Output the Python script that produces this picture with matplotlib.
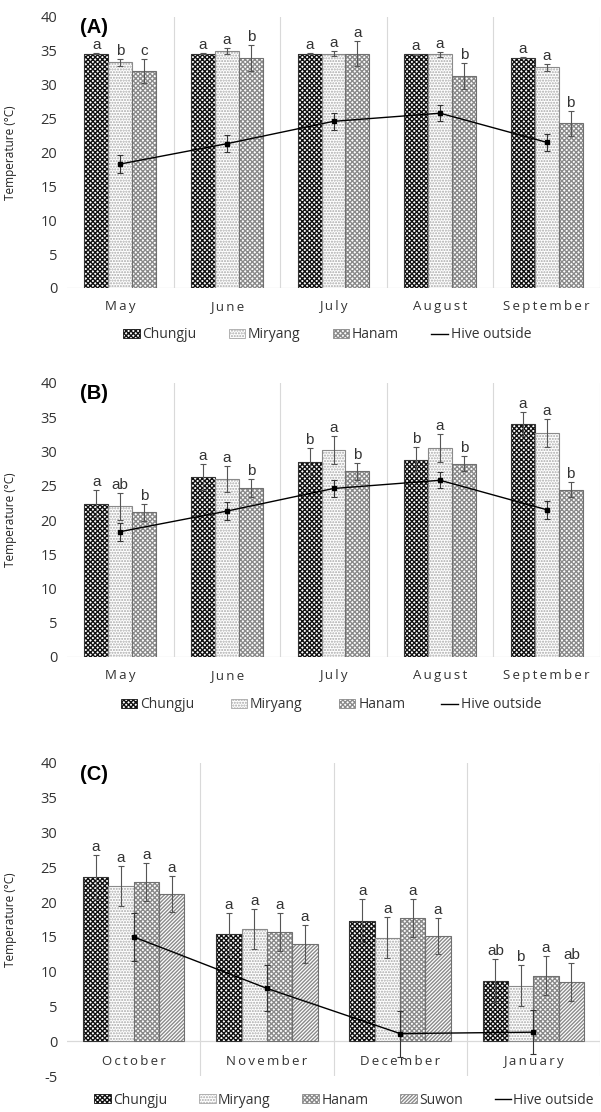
import matplotlib
matplotlib.use("Agg")
import matplotlib.pyplot as plt
from matplotlib.patches import Patch
from matplotlib.lines import Line2D
import numpy as np

# ---------------- data ----------------
months_summer = ["May", "June", "July", "August", "September"]
months_winter = ["October", "November", "December", "January"]

# (A) summer, upper hive temperature
a_chungju = [34.6, 34.6, 34.6, 34.5, 34.0]
a_chungju_err = [0.1, 0.1, 0.1, 0.1, 0.1]
a_miryang = [33.3, 35.0, 34.6, 34.5, 32.6]
a_miryang_err = [0.5, 0.4, 0.4, 0.4, 0.5]
a_hanam = [32.0, 34.0, 34.6, 31.3, 24.3]
a_hanam_err = [1.8, 1.9, 1.9, 1.9, 1.8]
a_letters = [["a", "b", "c"], ["a", "a", "b"], ["a", "a", "a"],
             ["a", "a", "b"], ["a", "a", "b"]]

# (B) summer, lower hive temperature
b_chungju = [22.4, 26.3, 28.5, 28.8, 34.0]
b_chungju_err = [2.0, 1.9, 2.0, 1.8, 1.8]
b_miryang = [22.0, 26.0, 30.2, 30.5, 32.7]
b_miryang_err = [2.0, 1.9, 2.0, 2.0, 2.0]
b_hanam = [21.1, 24.7, 27.1, 28.2, 24.4]
b_hanam_err = [1.2, 1.3, 1.2, 1.1, 1.1]
b_letters = [["a", "ab", "b"], ["a", "a", "b"], ["b", "a", "b"],
             ["b", "a", "b"], ["a", "a", "b"]]

# outside air temperature, May-September
hive_out_summer = [18.3, 21.3, 24.6, 25.8, 21.5]
hive_out_summer_err = [1.3, 1.3, 1.3, 1.2, 1.3]

# (C) winter
c_chungju = [23.6, 15.4, 17.3, 8.7]
c_chungju_err = [3.2, 3.0, 3.1, 3.1]
c_miryang = [22.3, 16.1, 14.9, 8.0]
c_miryang_err = [2.9, 2.9, 2.9, 3.0]
c_hanam = [22.9, 15.7, 17.7, 9.4]
c_hanam_err = [2.7, 2.7, 2.7, 2.8]
c_suwon = [21.2, 14.0, 15.1, 8.5]
c_suwon_err = [2.6, 2.7, 2.6, 2.7]
c_letters = [["a", "a", "a", "a"], ["a", "a", "a", "a"],
             ["a", "a", "a", "a"], ["ab", "b", "a", "ab"]]
hive_out_winter = [15.0, 7.6, 1.1, 1.3]
hive_out_winter_err = [3.4, 3.3, 3.3, 3.2]

# ---------------- styles ----------------
plt.rcParams["hatch.linewidth"] = 1.0
plt.rcParams["axes.unicode_minus"] = False
SANS = ["Open Sans", "DejaVu Sans"]
ARIAL = ["Liberation Sans", "DejaVu Sans"]
GRID = "#d9d9d9"

styles = {
    "Chungju": dict(face="white", hatch="xxxxxxx", hcol="#111111", edge="#333333"),
    "Miryang": dict(face="white", hatch="......", hcol="#a8a8a8", edge="#8a8a8a"),
    "Hanam": dict(face="white", hatch="xxxxxxx", hcol="#8a8a8a", edge="#707070"),
    "Suwon": dict(face="white", hatch="/////////", hcol="#8a8a8a", edge="#707070"),
}


def spaced(s):
    return "\u2009".join(s)


def draw_panel(ax, cats, series, errs, names, letters, hive, hive_err,
               width, ymin, tag):
    n = len(names)
    x = np.arange(len(cats))
    offsets = (np.arange(n) - (n - 1) / 2) * width
    for k, name in enumerate(names):
        st = styles[name]
        xs = x + offsets[k]
        ax.bar(xs, series[k], width, color=st["face"], edgecolor=st["hcol"],
               hatch=st["hatch"], linewidth=0, zorder=2)
        ax.bar(xs, series[k], width, fill=False, edgecolor=st["edge"],
               linewidth=0.8, zorder=3)
        ax.errorbar(xs, series[k], yerr=errs[k], fmt="none", ecolor="#555555",
                    elinewidth=0.8, capsize=2, capthick=0.8, zorder=4)
        for i in range(len(cats)):
            ax.text(xs[i], series[k][i] + errs[k][i] + 0.15, letters[i][k],
                    ha="center", va="bottom", fontsize=11, family=ARIAL,
                    color="#333333", zorder=6)
    ax.errorbar(x, hive, yerr=hive_err, color="black", lw=1.0, marker="s",
                ms=2.5, ecolor="#333333", elinewidth=0.8, capsize=2,
                capthick=0.8, zorder=5)

    ax.set_xlim(-0.5, len(cats) - 0.5)
    ax.set_ylim(ymin, 40)
    ax.set_yticks(np.arange(ymin, 41, 5))
    ax.tick_params(axis="y", length=0, pad=7, labelsize=10.5, labelcolor="#333333")
    for lab in ax.get_yticklabels():
        lab.set_family(SANS)
    for s in ax.spines.values():
        s.set_visible(False)
    for b in np.arange(0.5, len(cats), 1.0):
        ax.axvline(b, color=GRID, lw=0.8, zorder=0)
    ax.axhline(0, color=GRID, lw=0.9, zorder=1)
    ax.set_ylabel("Temperature (\u00b0C)", fontsize=8.5, family=SANS,
                  color="#222222")
    ax.yaxis.set_label_coords(-0.094, 0.5)
    ax.text(0.025, 0.995, tag, transform=ax.transAxes, fontsize=14.5,
            fontweight="bold", family=ARIAL, va="top", ha="left", zorder=7)
    return x


fig = plt.figure(figsize=(6.01, 11.12), dpi=100)
W, H = 601.0, 1112.0


def axes_px(left, top, right, bottom):
    return fig.add_axes([left / W, 1 - bottom / H, (right - left) / W,
                         (bottom - top) / H])


def legend_handles(names):
    hs = []
    for name in names:
        st = styles[name]
        hs.append(Patch(facecolor=st["face"], edgecolor=st["hcol"],
                        hatch=st["hatch"], linewidth=0.6, label=name))
    hs.append(Line2D([], [], color="black", lw=1.0, label="Hive outside"))
    return hs


# ---- (A) ----
axA = axes_px(67, 17, 600, 288)
x = draw_panel(axA, months_summer, [a_chungju, a_miryang, a_hanam],
               [a_chungju_err, a_miryang_err, a_hanam_err],
               ["Chungju", "Miryang", "Hanam"], a_letters,
               hive_out_summer, hive_out_summer_err, 0.225, 0, "(A)")
axA.set_xticks(x)
axA.set_xticklabels([spaced(m) for m in months_summer], fontsize=9.5,
                    family=SANS, color="#333333")
axA.tick_params(axis="x", length=0, pad=9)
fig.legend(handles=legend_handles(["Chungju", "Miryang", "Hanam"]),
           loc="center", bbox_to_anchor=(327 / W, 1 - 335 / H), ncol=4,
           frameon=False, prop={"family": SANS, "size": 10},
           handlelength=1.2, handleheight=0.55, handletextpad=0.2,
           columnspacing=2.3, labelcolor="#333333")

# ---- (B) ----
axB = axes_px(67, 383, 600, 657)
x = draw_panel(axB, months_summer, [b_chungju, b_miryang, b_hanam],
               [b_chungju_err, b_miryang_err, b_hanam_err],
               ["Chungju", "Miryang", "Hanam"], b_letters,
               hive_out_summer, hive_out_summer_err, 0.225, 0, "(B)")
axB.set_xticks(x)
axB.set_xticklabels([spaced(m) for m in months_summer], fontsize=9.5,
                    family=SANS, color="#333333")
axB.tick_params(axis="x", length=0, pad=9)
fig.legend(handles=legend_handles(["Chungju", "Miryang", "Hanam"]),
           loc="center", bbox_to_anchor=(331 / W, 1 - 705 / H), ncol=4,
           frameon=False, prop={"family": SANS, "size": 10},
           handlelength=1.2, handleheight=0.55, handletextpad=0.2,
           columnspacing=2.6, labelcolor="#333333")

# ---- (C) ----
axC = axes_px(67, 763, 600, 1076)
x = draw_panel(axC, months_winter, [c_chungju, c_miryang, c_hanam, c_suwon],
               [c_chungju_err, c_miryang_err, c_hanam_err, c_suwon_err],
               ["Chungju", "Miryang", "Hanam", "Suwon"], c_letters,
               hive_out_winter, hive_out_winter_err, 0.19, -5, "(C)")
axC.set_xticks([])
for i, m in enumerate(months_winter):
    axC.text(i, -2.9, spaced(m), ha="center", va="center", fontsize=9.5,
             family=SANS, color="#333333")
fig.legend(handles=legend_handles(["Chungju", "Miryang", "Hanam", "Suwon"]),
           loc="center", bbox_to_anchor=(344 / W, 1 - 1100 / H), ncol=5,
           frameon=False, prop={"family": SANS, "size": 10},
           handlelength=1.2, handleheight=0.55, handletextpad=0.15,
           columnspacing=2.3, labelcolor="#333333")

fig.savefig("out.png", dpi=100, facecolor="white")
